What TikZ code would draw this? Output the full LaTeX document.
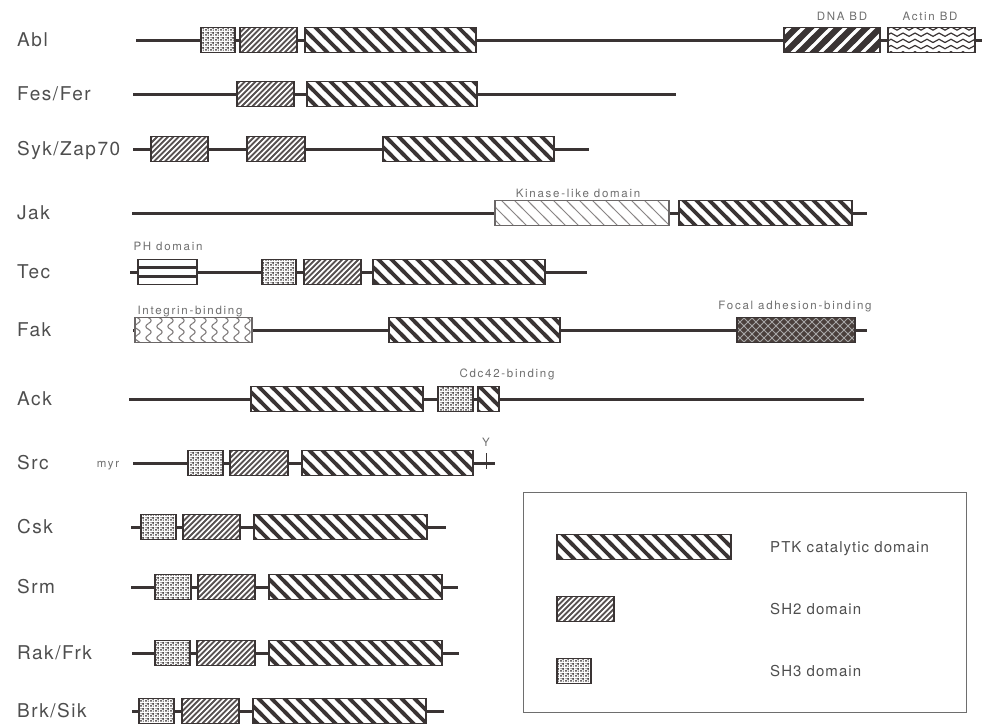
\documentclass[tikz,border=0pt]{standalone}
\usepackage{fontspec}
\setmainfont{TeX Gyre Heros}
\newfontfamily\rowfam[LetterSpace=8]{TeX Gyre Heros}
\newfontfamily\tagfam[LetterSpace=15]{TeX Gyre Heros}
\newfontfamily\keyfam[LetterSpace=7]{TeX Gyre Heros}
\usetikzlibrary{patterns}

\definecolor{ink}{HTML}{3A3434}
\definecolor{txt}{HTML}{4E4E4E}
\definecolor{faint}{HTML}{6E6E6E}
\definecolor{focaldark}{HTML}{4A403C}

\pgfdeclarepatternformonly{ptkstripes}{\pgfqpoint{-3pt}{-3pt}}{\pgfqpoint{16pt}{16pt}}{\pgfqpoint{13pt}{13pt}}{%
  \pgfsetlinewidth{3.8pt}%
  \pgfpathmoveto{\pgfqpoint{-3pt}{16pt}}\pgfpathlineto{\pgfqpoint{16pt}{-3pt}}%
  \pgfusepath{stroke}}
\pgfdeclarepatternformonly{kinstripes}{\pgfqpoint{-3pt}{-3pt}}{\pgfqpoint{16pt}{16pt}}{\pgfqpoint{13pt}{13pt}}{%
  \pgfsetlinewidth{0.9pt}%
  \pgfpathmoveto{\pgfqpoint{-3pt}{16pt}}\pgfpathlineto{\pgfqpoint{16pt}{-3pt}}%
  \pgfusepath{stroke}}
\pgfdeclarepatternformonly{shtwostripes}{\pgfqpoint{-3pt}{-3pt}}{\pgfqpoint{8.4pt}{8.4pt}}{\pgfqpoint{5.4pt}{5.4pt}}{%
  \pgfsetlinewidth{1.6pt}%
  \pgfpathmoveto{\pgfqpoint{-3pt}{-3pt}}\pgfpathlineto{\pgfqpoint{8.4pt}{8.4pt}}%
  \pgfusepath{stroke}}
\pgfdeclarepatternformonly{dnastripes}{\pgfqpoint{-4pt}{-4pt}}{\pgfqpoint{18pt}{18pt}}{\pgfqpoint{14pt}{14pt}}{%
  \pgfsetlinewidth{6.3pt}%
  \pgfpathmoveto{\pgfqpoint{-4pt}{-4pt}}\pgfpathlineto{\pgfqpoint{18pt}{18pt}}%
  \pgfusepath{stroke}}
\pgfdeclarepatternformonly{stipple}{\pgfqpoint{0pt}{0pt}}{\pgfqpoint{5pt}{5pt}}{\pgfqpoint{5pt}{5pt}}{%
  \pgfpathcircle{\pgfqpoint{1.2pt}{1.3pt}}{1.25pt}%
  \pgfpathcircle{\pgfqpoint{3.7pt}{3.6pt}}{1.25pt}%
  \pgfpathcircle{\pgfqpoint{3.9pt}{1.0pt}}{0.7pt}%
  \pgfpathcircle{\pgfqpoint{1.2pt}{3.9pt}}{0.7pt}%
  \pgfusepath{fill}}
\pgfdeclarepatternformonly{actinwaves}{\pgfqpoint{0pt}{-1pt}}{\pgfqpoint{12pt}{7.2pt}}{\pgfqpoint{12pt}{6.2pt}}{%
  \pgfsetlinewidth{1.2pt}%
  \pgfpathmoveto{\pgfqpoint{0pt}{3.1pt}}%
  \pgfpathcurveto{\pgfqpoint{2pt}{5.3pt}}{\pgfqpoint{4pt}{5.3pt}}{\pgfqpoint{6pt}{3.1pt}}%
  \pgfpathcurveto{\pgfqpoint{8pt}{0.9pt}}{\pgfqpoint{10pt}{0.9pt}}{\pgfqpoint{12pt}{3.1pt}}%
  \pgfusepath{stroke}}
\pgfdeclarepatternformonly{integrinwaves}{\pgfqpoint{-1pt}{0pt}}{\pgfqpoint{12pt}{11.5pt}}{\pgfqpoint{11pt}{11.5pt}}{%
  \pgfsetlinewidth{1.1pt}%
  \pgfpathmoveto{\pgfqpoint{5.5pt}{0pt}}%
  \pgfpathcurveto{\pgfqpoint{9pt}{2pt}}{\pgfqpoint{9pt}{4pt}}{\pgfqpoint{5.5pt}{5.75pt}}%
  \pgfpathcurveto{\pgfqpoint{2pt}{7.5pt}}{\pgfqpoint{2pt}{9.5pt}}{\pgfqpoint{5.5pt}{11.5pt}}%
  \pgfusepath{stroke}}
\pgfdeclarepatternformonly{focalhatch}{\pgfqpoint{-1pt}{-1pt}}{\pgfqpoint{9pt}{9pt}}{\pgfqpoint{8pt}{8pt}}{%
  \pgfsetlinewidth{0.9pt}%
  \pgfpathmoveto{\pgfqpoint{-1pt}{-1pt}}\pgfpathlineto{\pgfqpoint{9pt}{9pt}}%
  \pgfpathmoveto{\pgfqpoint{-1pt}{9pt}}\pgfpathlineto{\pgfqpoint{9pt}{-1pt}}%
  \pgfusepath{stroke}}

\begin{document}
\begin{tikzpicture}[x=1pt, y=-1pt,
  backbone/.style={ink, line width=3pt},
  dom/.style={draw=ink, line width=1.2pt, minimum height=25pt, inner sep=0pt, outer sep=0pt, anchor=west, preaction={fill=white}},
  ptk/.style={dom, pattern=ptkstripes, pattern color=ink},
  shtwo/.style={dom, pattern=shtwostripes, pattern color=ink!85},
  shthree/.style={dom, pattern=stipple, pattern color=ink},
  dnabd/.style={dom, pattern=dnastripes, pattern color=ink},
  actinbd/.style={dom, pattern=actinwaves, pattern color=ink},
  kinlike/.style={dom, draw=ink!75, pattern=kinstripes, pattern color=ink!60},
  integrin/.style={dom, draw=ink!75, pattern=integrinwaves, pattern color=ink!65},
  focal/.style={dom, preaction={fill=focaldark}, pattern=focalhatch, pattern color=black!35},
  phdom/.style={dom, path picture={
    \draw[ink, line width=2.6pt] ([yshift=4.3pt]path picture bounding box.west) -- ([yshift=4.3pt]path picture bounding box.east);
    \draw[ink, line width=2.6pt] ([yshift=-4.3pt]path picture bounding box.west) -- ([yshift=-4.3pt]path picture bounding box.east);}},
  prot/.style={anchor=base west, inner sep=0pt, text=txt, font=\rowfam\fontsize{19}{22}\selectfont},
  domtag/.style={anchor=base, inner sep=0pt, text=faint, font=\tagfam\fontsize{11.5}{13}\selectfont},
  keytext/.style={anchor=base west, inner sep=0pt, text=txt, font=\keyfam\fontsize{15}{17}\selectfont}]
\useasboundingbox (0,0) rectangle (983,726);

\node[prot] (abl) at (17,46) {Abl};
\coordinate (ablL) at (136,40); \coordinate (ablR) at (982,40);
\draw[backbone] (ablL) -- (ablR);
\node[shthree, minimum width=34pt] (ablsh3) at (201,40) {};
\node[shtwo, minimum width=57pt] (ablsh2) at (240,40) {};
\node[ptk, minimum width=171pt] (ablptk) at (305,40) {};
\node[dnabd, minimum width=96pt] (abldna) at (784,40) {};
\node[actinbd, minimum width=87pt] (ablactin) at (888,40) {};
\node[domtag] (dnatag) at (842,20) {DNA BD};
\node[domtag] (actintag) at (930,20) {Actin BD};

\node[prot] (fes) at (17,100) {Fes/Fer};
\coordinate (fesL) at (133,94); \coordinate (fesR) at (676,94);
\draw[backbone] (fesL) -- (fesR);
\node[shtwo, minimum width=57pt] (fessh2) at (237,94) {};
\node[ptk, minimum width=170pt] (fesptk) at (307,94) {};

\node[prot] (syk) at (17,155) {Syk/Zap70};
\coordinate (sykL) at (133,149); \coordinate (sykR) at (589,149);
\draw[backbone] (sykL) -- (sykR);
\node[shtwo, minimum width=57pt] (syksh2a) at (151,149) {};
\node[shtwo, minimum width=58pt] (syksh2b) at (247,149) {};
\node[ptk, minimum width=171pt] (sykptk) at (383,149) {};

\node[prot] (jak) at (17,219) {Jak};
\coordinate (jakL) at (132,213); \coordinate (jakR) at (867,213);
\draw[backbone] (jakL) -- (jakR);
\node[kinlike, minimum width=174pt] (jakkin) at (495,213) {};
\node[ptk, minimum width=173pt] (jakptk) at (679,213) {};
\node[domtag] (kintag) at (578,197) {Kinase-like domain};

\node[prot] (tec) at (17,278) {Tec};
\coordinate (tecL) at (130,272); \coordinate (tecR) at (587,272);
\draw[backbone] (tecL) -- (tecR);
\node[phdom, minimum width=59pt] (tecph) at (138,272) {};
\node[shthree, minimum width=34pt] (tecsh3) at (262,272) {};
\node[shtwo, minimum width=57pt] (tecsh2) at (304,272) {};
\node[ptk, minimum width=172pt] (tecptk) at (373,272) {};
\node[domtag] (phtag) at (168,250) {PH domain};

\node[prot] (fak) at (17,336) {Fak};
\coordinate (fakL) at (133,330); \coordinate (fakR) at (867,330);
\draw[backbone] (fakL) -- (fakR);
\node[integrin, minimum width=117pt] (fakint) at (135,330) {};
\node[ptk, minimum width=171pt] (fakptk) at (389,330) {};
\node[focal, minimum width=118pt] (fakfocal) at (737,330) {};
\node[domtag] (inttag) at (190,314) {Integrin-binding};
\node[domtag] (focaltag) at (795,309) {Focal adhesion-binding};

\node[prot] (ack) at (17,405) {Ack};
\coordinate (ackL) at (129,399); \coordinate (ackR) at (864,399);
\draw[backbone] (ackL) -- (ackR);
\node[ptk, minimum width=172pt] (ackptk) at (251,399) {};
\node[shthree, minimum width=35pt] (acksh3) at (438,399) {};
\node[ptk, minimum width=21pt] (ackcdc) at (478,399) {};
\node[domtag] (cdctag) at (507,377) {Cdc42-binding};

\node[prot] (src) at (17,469) {Src};
\node[domtag] (myr) at (108,467) {myr};
\coordinate (srcL) at (133,463); \coordinate (srcR) at (495,463);
\draw[backbone] (srcL) -- (srcR);
\node[shthree, minimum width=35pt] (srcsh3) at (188,463) {};
\node[shtwo, minimum width=58pt] (srcsh2) at (230,463) {};
\node[ptk, minimum width=171pt] (srcptk) at (302,463) {};
\node[domtag] (srcy) at (486,446) {Y};
\coordinate (srctick) at (486,469);
\draw[ink, line width=0.8pt, shorten <=7pt] (srcy.south) -- (srctick);

\node[prot] (csk) at (17,533) {Csk};
\coordinate (cskL) at (131,527); \coordinate (cskR) at (446,527);
\draw[backbone] (cskL) -- (cskR);
\node[shthree, minimum width=35pt] (csksh3) at (141,527) {};
\node[shtwo, minimum width=57pt] (csksh2) at (183,527) {};
\node[ptk, minimum width=173pt] (cskptk) at (254,527) {};

\node[prot] (srm) at (17,593) {Srm};
\coordinate (srmL) at (131,587); \coordinate (srmR) at (458,587);
\draw[backbone] (srmL) -- (srmR);
\node[shthree, minimum width=36pt] (srmsh3) at (155,587) {};
\node[shtwo, minimum width=57pt] (srmsh2) at (198,587) {};
\node[ptk, minimum width=173pt] (srmptk) at (269,587) {};

\node[prot] (rak) at (17,659) {Rak/Frk};
\coordinate (rakL) at (132,653); \coordinate (rakR) at (459,653);
\draw[backbone] (rakL) -- (rakR);
\node[shthree, minimum width=35pt] (raksh3) at (155,653) {};
\node[shtwo, minimum width=58pt] (raksh2) at (197,653) {};
\node[ptk, minimum width=173pt] (rakptk) at (269,653) {};

\node[prot] (brk) at (17,717) {Brk/Sik};
\coordinate (brkL) at (132,711); \coordinate (brkR) at (444,711);
\draw[backbone] (brkL) -- (brkR);
\node[shthree, minimum width=35pt] (brksh3) at (139,711) {};
\node[shtwo, minimum width=57pt] (brksh2) at (182,711) {};
\node[ptk, minimum width=173pt] (brkptk) at (253,711) {};

\node[draw=faint, line width=0.9pt, minimum width=443pt, minimum height=220pt, inner sep=0pt, anchor=north west] (legend) at (523,492) {};
\node[ptk, minimum width=174pt] (keyptk) at (557,547) {};
\node[shtwo, minimum width=57pt] (keysh2) at (557,609) {};
\node[shthree, minimum width=34pt] (keysh3) at (557,671) {};
\node[keytext] (keyptktext) at (770,552) {PTK catalytic domain};
\node[keytext] (keysh2text) at (770,614) {SH2 domain};
\node[keytext] (keysh3text) at (770,676) {SH3 domain};

\end{tikzpicture}
\end{document}
